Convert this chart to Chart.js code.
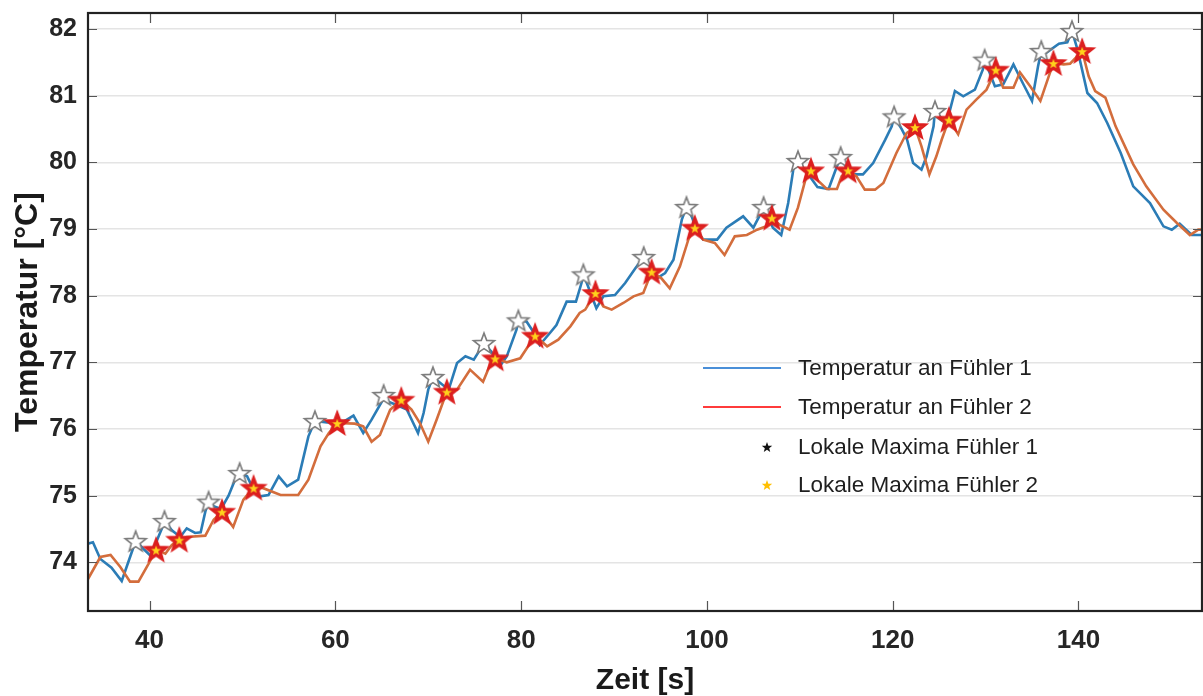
<!DOCTYPE html>
<html>
<head>
<meta charset="utf-8">
<script src="https://cdn.jsdelivr.net/npm/chart.js@4.4.1/dist/chart.umd.min.js"></script>
<style>
html,body{margin:0;padding:0;background:#fff;}
#wrap{width:1203px;height:696px;position:relative;}
</style>
</head>
<body>
<div id="wrap"><canvas id="c"></canvas></div>
<script>
// ---------- data ----------
const xTicks = [40, 60, 80, 100, 120, 140];
const yTicks = [74, 75, 76, 77, 78, 79, 80, 81, 82];

const zeit1 = [33.37,33.9,34.7,35.9,37.0,38.5,39.35,40.1,41.3,41.6,
  42.4,43.3,44.0,44.9,45.5,46.0,46.35,46.9,47.7,48.5,
  49.2,49.7,50.5,51.2,51.9,52.8,53.9,54.8,56.0,57.1,
  57.8,59.1,60.9,61.95,63.0,63.9,65.0,65.2,65.7,66.6,
  67.7,68.9,69.5,70.0,70.5,71.3,72.2,73.1,74.0,74.9,
  75.8,76.0,76.8,77.7,78.45,79.5,79.7,80.6,81.3,82.0,
  83.1,83.8,84.9,85.9,86.5,86.7,87.2,88.1,88.85,90.1,
  91.2,92.3,93.2,93.7,94.6,95.5,96.4,97.3,97.8,98.35,
  98.9,99.6,101.1,102.1,103.9,105.0,105.9,106.1,107.1,108.0,
  108.75,109.3,109.8,110.9,111.9,113.1,114.0,114.4,115.4,116.8,
  117.9,119.2,119.9,120.15,121.0,121.55,122.2,123.1,123.65,124.4,
  124.55,125.4,125.9,126.7,127.6,128.85,129.7,129.9,131.0,131.9,
  133.0,134.0,135.0,135.65,136.0,136.5,137.9,138.8,139.3,139.9,
  140.96,142.0,143.1,144.55,145.9,147.7,149.15,150.05,150.9,152.2,
  153.3];
const temp1 = [74.28,74.30,74.05,73.92,73.72,74.32,74.20,74.10,74.50,74.62,
  74.48,74.38,74.51,74.44,74.45,74.76,74.91,74.84,74.80,75.00,
  75.24,75.34,75.29,75.09,74.99,75.01,75.29,75.14,75.24,75.89,
  76.12,76.10,76.11,76.20,75.94,76.14,76.41,76.51,76.41,76.36,
  76.29,75.94,76.24,76.59,76.78,76.69,76.59,76.99,77.09,77.04,
  77.24,77.29,77.16,76.94,77.09,77.49,77.63,77.61,77.46,77.26,
  77.44,77.56,77.91,77.91,78.19,78.32,78.14,77.81,77.99,78.01,
  78.19,78.41,78.58,78.49,78.26,78.34,78.54,79.14,79.33,79.19,
  78.99,78.84,78.84,79.02,79.19,79.02,79.26,79.33,79.02,78.91,
  79.39,79.89,80.02,79.82,79.63,79.60,79.94,80.08,79.82,79.82,
  79.99,80.34,80.54,80.69,80.49,80.34,79.99,79.89,80.09,80.54,
  80.77,80.64,80.64,81.07,80.99,81.09,81.39,81.54,81.14,81.17,
  81.47,81.19,80.92,81.44,81.67,81.64,81.78,81.80,81.97,81.69,
  81.04,80.89,80.59,80.14,79.64,79.39,79.04,78.99,79.08,78.91,
  78.91];

const zeit2 = [33.37,34.7,35.8,36.85,37.9,38.8,39.9,40.7,41.7,42.4,
  43.2,44.0,46.0,46.9,47.8,49.0,50.1,51.2,52.1,54.1,
  56.0,57.1,58.4,59.3,60.2,62.1,63.0,63.9,64.8,65.9,
  67.1,68.2,69.1,70.0,70.9,72.0,73.1,74.5,75.9,76.65,
  77.2,78.45,79.9,81.5,82.8,84.0,85.3,86.3,86.9,88.0,
  88.85,89.75,91.0,92.1,93.15,94.05,95.1,96.0,97.1,98.0,
  98.7,99.6,100.85,101.9,103.0,104.3,105.4,106.4,107.0,107.85,
  108.9,109.8,110.7,111.2,112.0,112.9,114.0,114.5,115.2,116.1,
  117.0,118.1,119.0,120.4,121.5,122.4,123.1,123.95,124.7,125.3,
  126.05,127.05,127.95,129.0,130.1,131.1,131.9,133.0,133.7,134.8,
  135.9,136.8,137.3,138.4,139.1,140.4,141.1,141.8,142.9,144.0,
  145.9,147.3,149.15,150.6,152.0,152.9,153.3];
const temp2 = [73.75,74.08,74.11,73.93,73.71,73.71,73.98,74.19,74.13,74.26,
  74.34,74.38,74.40,74.64,74.76,74.53,74.94,75.12,75.12,75.01,
  75.01,75.24,75.74,75.94,76.09,76.08,76.04,75.81,75.91,76.29,
  76.44,76.29,76.09,75.81,76.14,76.56,76.59,76.89,76.71,76.96,
  77.06,77.00,77.06,77.40,77.24,77.34,77.54,77.74,77.79,78.04,
  77.84,77.79,77.89,77.99,78.04,78.36,78.26,78.11,78.44,78.84,
  79.02,78.84,78.79,78.61,78.89,78.91,78.99,79.04,79.17,79.06,
  78.99,79.32,79.79,79.88,79.72,79.60,79.60,79.79,79.88,79.79,
  79.59,79.59,79.69,80.14,80.44,80.53,80.24,79.82,80.09,80.35,
  80.64,80.42,80.79,80.94,81.09,81.39,81.12,81.12,81.35,81.14,
  80.92,81.29,81.49,81.47,81.48,81.67,81.29,81.07,80.97,80.54,
  79.97,79.64,79.29,79.09,78.91,78.99,78.99];

const maxZeit1 = [38.5,41.6,46.35,49.7,57.8,65.2,70.5,76.0,79.7,86.7,93.2,97.8,106.1,109.8,114.4,120.15,124.55,129.9,136.0,139.3];
const maxTemp1 = [74.32,74.62,74.91,75.34,76.12,76.51,76.78,77.29,77.63,78.32,78.58,79.33,79.33,80.02,80.08,80.69,80.77,81.54,81.67,81.97];
const maxZeit2 = [40.7,43.2,47.8,51.2,60.2,67.1,72.0,77.2,81.5,88.0,94.05,98.7,107.0,111.2,115.2,122.4,126.05,131.1,137.3,140.4];
const maxTemp2 = [74.19,74.34,74.76,75.12,76.09,76.44,76.56,77.06,77.40,78.04,78.36,79.02,79.17,79.88,79.88,80.53,80.64,81.39,81.49,81.67];

const seriesNames = ['Temperatur an Fühler 1', 'Temperatur an Fühler 2', 'Lokale Maxima Fühler 1', 'Lokale Maxima Fühler 2'];
const xTitle = 'Zeit [s]';
const yTitle = 'Temperatur [°C]';

// ---------- helpers ----------
const FONT = '"Liberation Sans", Arial, Helvetica, sans-serif';
const zip = (xs, ys) => xs.map((x, i) => ({x: x, y: ys[i]}));

function starPath(ctx, cx, cy, R, r) {
  ctx.beginPath();
  for (let i = 0; i < 10; i++) {
    const a = -Math.PI / 2 + i * Math.PI / 5;
    const rad = (i % 2 === 0) ? R : r;
    ctx.lineTo(cx + rad * Math.cos(a), cy + rad * Math.sin(a));
  }
  ctx.closePath();
}
function makeStar(size, R, r, fill, stroke, lw) {
  const cv = document.createElement('canvas');
  cv.width = size; cv.height = size;
  const g = cv.getContext('2d');
  starPath(g, size / 2, size / 2 + R * 0.1, R, r);
  g.fillStyle = fill; g.fill();
  g.lineJoin = 'miter'; g.miterLimit = 10;
  g.strokeStyle = stroke; g.lineWidth = lw; g.stroke();
  return cv;
}
const whiteStar = makeStar(30, 11, 4.6, '#ffffff', '#7d7d7d', 1.6);
const redStar = makeStar(38, 10, 4.2, '#ffd21c', '#dc1f1f', 3.4);

const BLUE = '#2b7cb6';
const ORANGE = '#d36d3c';

// frame + inward tick marks
const framePlugin = {
  id: 'frame',
  afterDraw(chart) {
    const {ctx, chartArea: a, scales: {x, y}} = chart;
    ctx.save();
    ctx.strokeStyle = '#555';
    ctx.lineWidth = 1.2;
    ctx.beginPath();
    xTicks.forEach(v => {
      const px = Math.round(x.getPixelForValue(v)) + 0.5;
      ctx.moveTo(px, a.bottom); ctx.lineTo(px, a.bottom - 10);
      ctx.moveTo(px, a.top); ctx.lineTo(px, a.top + 10);
    });
    yTicks.forEach(v => {
      const py = Math.round(y.getPixelForValue(v)) + 0.5;
      ctx.moveTo(a.left, py); ctx.lineTo(a.left + 9, py);
      ctx.moveTo(a.right, py); ctx.lineTo(a.right - 9, py);
    });
    ctx.stroke();
    ctx.strokeStyle = '#222';
    ctx.lineWidth = 2.2;
    ctx.strokeRect(a.left, a.top, a.right - a.left, a.bottom - a.top);
    ctx.restore();
  }
};

// legend drawn inside the plot (no box)
const legendPlugin = {
  id: 'innerLegend',
  afterDraw(chart) {
    const {ctx} = chart;
    const rows = [368, 407, 447, 485];
    const textX = 798;
    ctx.save();
    ctx.lineWidth = 2.2;
    ctx.strokeStyle = '#4a8fd8';
    ctx.beginPath(); ctx.moveTo(703, rows[0]); ctx.lineTo(781, rows[0]); ctx.stroke();
    ctx.strokeStyle = '#ff3b3b';
    ctx.beginPath(); ctx.moveTo(703, rows[1]); ctx.lineTo(781, rows[1]); ctx.stroke();
    starPath(ctx, 767, rows[2] + 0.5, 5.5, 2.3); ctx.fillStyle = '#111'; ctx.fill();
    starPath(ctx, 767, rows[3] + 0.5, 5.5, 2.3); ctx.fillStyle = '#ffbf00'; ctx.fill();
    ctx.fillStyle = '#1e1e1e';
    ctx.font = '22.5px ' + FONT;
    ctx.textAlign = 'left';
    ctx.textBaseline = 'middle';
    seriesNames.forEach((t, i) => ctx.fillText(t, textX, rows[i] + 1));
    ctx.restore();
  }
};

new Chart(document.getElementById('c'), {
  type: 'line',
  data: {
    datasets: [
      {label: seriesNames[0], data: zip(zeit1, temp1), borderColor: BLUE, borderWidth: 2.6,
       pointRadius: 0, tension: 0, fill: false, order: 4},
      {label: seriesNames[1], data: zip(zeit2, temp2), borderColor: ORANGE, borderWidth: 2.6,
       pointRadius: 0, tension: 0, fill: false, order: 3},
      {label: seriesNames[2], data: zip(maxZeit1, maxTemp1), showLine: false,
       pointStyle: whiteStar, pointRadius: 10, order: 2},
      {label: seriesNames[3], data: zip(maxZeit2, maxTemp2), showLine: false,
       pointStyle: redStar, pointRadius: 10, order: 1}
    ]
  },
  options: {
    responsive: true,
    maintainAspectRatio: false,
    animation: false,
    events: [],
    layout: {autoPadding: false, padding: {left: 0, top: 13, right: 1, bottom: 0}},
    plugins: {legend: {display: false}, tooltip: {enabled: false}},
    scales: {
      x: {
        type: 'linear', min: 33.37, max: 153.3,
        afterBuildTicks: s => { s.ticks = xTicks.map(v => ({value: v})); },
        afterFit: s => { s.height = 85; s.paddingLeft = 0; s.paddingRight = 0; },
        grid: {display: false, drawTicks: false},
        border: {display: false},
        ticks: {font: {family: FONT, size: 26, weight: 'bold'}, color: '#262626', padding: 14,
                maxRotation: 0, autoSkip: false},
        title: {display: true, text: xTitle, color: '#1a1a1a',
                font: {family: FONT, size: 30, weight: 'bold', lineHeight: 1},
                padding: {top: 0, bottom: 0}}
      },
      y: {
        type: 'linear', min: 73.27, max: 82.24,
        afterBuildTicks: s => { s.ticks = yTicks.map(v => ({value: v})); },
        afterFit: s => { s.width = 88; s.paddingTop = 0; s.paddingBottom = 0; },
        grid: {color: '#e4e4e4', lineWidth: 1.6, drawTicks: false},
        border: {display: false},
        ticks: {font: {family: FONT, size: 25, weight: 'bold'}, color: '#262626', padding: 11},
        title: {display: true, text: yTitle, color: '#1a1a1a',
                font: {family: FONT, size: 32, weight: 'bold', lineHeight: 1},
                padding: {top: 12, bottom: 0}}
      }
    }
  },
  plugins: [framePlugin, legendPlugin]
});
</script>
</body>
</html>
